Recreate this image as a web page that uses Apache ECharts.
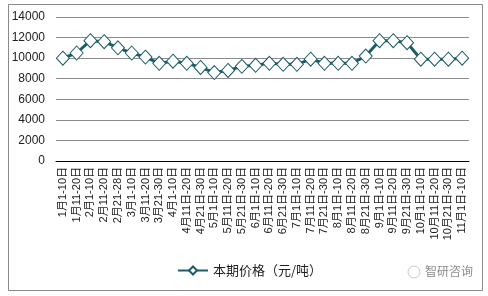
<!DOCTYPE html>
<html><head><meta charset="utf-8">
<script src="https://cdn.jsdelivr.net/npm/echarts@6/dist/echarts.min.js"></script>
<style>html,body{margin:0;padding:0;background:#fff}#c{width:488px;height:296px}</style>
</head><body><div id="c"></div>
<script>
const categories = ['1月1-10日','1月11-20日','2月1-10日','2月11-20日','2月21-28日','3月1-10日','3月11-20日','3月21-30日','4月1-10日','4月11日-20日','4月21日-30日','5月1日-10日','5月11日-20日','5月21日-30日','6月1日-10日','6月11日-20日','6月21日-30日','7月1日-10日','7月11日-20日','7月21日-30日','8月1日-10日','8月11日-20日','8月21日-30日','9月1日-10日','9月11日-20日','9月21日-30日','10月1日-10日','10月11日-20日','10月21日-30日','11月1日-10日'];
const prices = [10000,10500,11700,11600,11000,10500,10100,9500,9700,9500,9100,8600,8800,9200,9300,9500,9400,9400,9900,9500,9500,9500,10200,11700,11700,11500,9900,9900,9900,10000];
const seriesName = '本期价格（元/吨）';
const watermark = '智研咨询';
const yMin = 0, yMax = 14000, yStep = 2000;

const chart = echarts.init(document.getElementById('c'), null, {renderer:'canvas'});
const font = 'Arial, "Liberation Sans", "Noto Sans CJK SC", sans-serif';
const teal = '#1d5c66';
chart.setOption({
  animation:false,
  textStyle:{fontFamily:font},
  graphic:[
    {type:'rect', shape:{x:8.5,y:4.5,width:474,height:286}, style:{fill:'none',stroke:'#8a8a8a',lineWidth:1}},
    {type:'text', left:425, top:265, style:{text:watermark, fill:'#8c8c8c', font:'12px "Noto Sans CJK SC", sans-serif'}},
    {type:'circle', shape:{cx:414, cy:272, r:6}, style:{fill:'none', stroke:'#c8c8c8', lineWidth:1}}
  ],
  grid:{left:56, right:19, top:17, bottom:135, containLabel:false},
  legend:{
    data:[seriesName], left:172, top:259, itemWidth:30, itemHeight:10, itemGap:4,
    textStyle:{fontSize:13, color:'#222', fontFamily:'"Noto Sans CJK SC", sans-serif'}
  },
  xAxis:{
    type:'category', data:categories, boundaryGap:true,
    axisLine:{lineStyle:{color:'#000', width:1}},
    axisTick:{show:false},
    axisLabel:{rotate:90, interval:0, fontSize:11, color:'#222', margin:6, fontFamily:'"Liberation Sans", "Noto Sans CJK SC", sans-serif'}
  },
  yAxis:{
    type:'value', min:yMin, max:yMax, interval:yStep,
    axisLine:{show:false}, axisTick:{show:false},
    splitLine:{lineStyle:{color:'#8c8c8c', width:1}},
    axisLabel:{fontSize:12, color:'#222', margin:11, formatter:v=>String(v), fontFamily:'Arial, "Liberation Sans", sans-serif'}
  },
  series:[{
    name:seriesName, type:'line', data:prices,
    symbol:'diamond', symbolSize:[13,14],
    lineStyle:{color:teal, width:3},
    itemStyle:{color:'#fff', borderColor:teal, borderWidth:1},
  }]
});
</script></body></html>
